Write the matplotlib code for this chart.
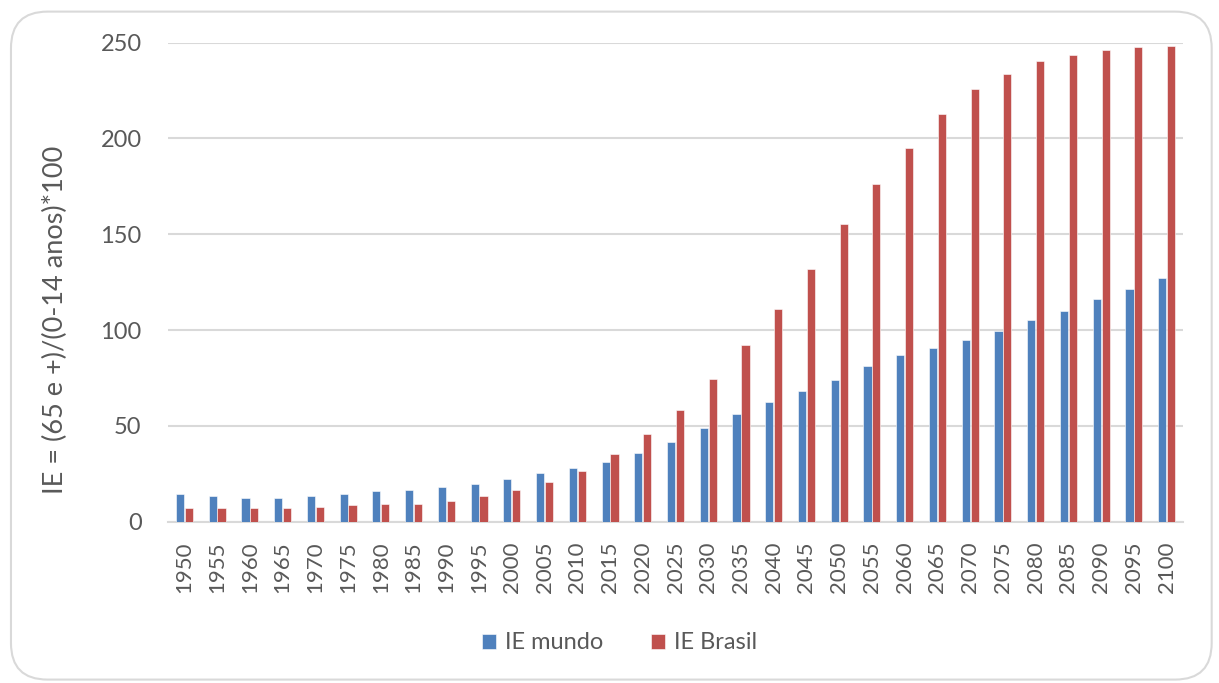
import matplotlib.pyplot as plt
import numpy as np
from matplotlib.patches import FancyBboxPatch

anos = [str(a) for a in range(1950, 2101, 5)]
ie_mundo = [14.3, 13.4, 12.5, 12.5, 13.4, 14.3, 15.9, 16.5, 18.3, 19.8, 22.3, 25.5,
            27.9, 31.2, 36.0, 41.6, 48.9, 56.1, 62.5, 68.1, 73.8, 81.1, 87.0, 90.8,
            94.8, 99.7, 105.4, 110.1, 116.1, 121.6, 127.2]
ie_brasil = [7.0, 7.0, 7.0, 7.0, 7.8, 8.5, 9.4, 9.4, 11.0, 13.4, 16.5, 20.6,
             26.3, 35.2, 45.6, 58.5, 74.6, 92.4, 111.0, 131.9, 155.5, 176.4, 195.2, 212.8,
             225.7, 233.8, 240.3, 243.6, 246.0, 247.6, 248.3]

plt.rcParams['font.family'] = ['Lato', 'DejaVu Sans']

fig = plt.figure(figsize=(12.19, 6.83), dpi=100)
border = FancyBboxPatch((0.009, 0.005), 0.985, 0.978, boxstyle="round,pad=0,rounding_size=0.03",
                        transform=fig.transFigure, facecolor='none', edgecolor='#D9D9D9',
                        linewidth=1.5, mutation_aspect=1219 / 683, zorder=-1)
fig.patches.append(border)

ax = fig.add_axes([0.1378, 0.2362, 0.8327, 0.7013])
ax.patch.set_alpha(0)
x = np.arange(len(anos))
w = 0.25
ax.bar(x - 0.135, ie_mundo, w, color='#4F81BD', edgecolor='white', linewidth=0.4, label='IE mundo', zorder=3)
ax.bar(x + 0.135, ie_brasil, w, color='#C0504D', edgecolor='white', linewidth=0.4, label='IE Brasil', zorder=3)

ax.set_xlim(-0.5, len(anos) - 0.5)
ax.set_ylim(0, 250)
ax.set_yticks(range(0, 251, 50))
ax.yaxis.grid(True, color='#D9D9D9', linewidth=1.5, zorder=0)
for s in ['top', 'right', 'left']:
    ax.spines[s].set_visible(False)
ax.spines['bottom'].set_color('#D9D9D9')
ax.spines['bottom'].set_linewidth(1.5)
ax.set_xticks(x)
ax.set_xticklabels(anos, rotation=90)
ax.tick_params(axis='both', length=0, labelcolor='#595959')
ax.tick_params(axis='y', pad=19, labelsize=17)
ax.tick_params(axis='x', pad=14, labelsize=16)
ax.set_ylabel('IE = (65 e +)/(0-14 anos)*100', fontsize=19.5, color='#595959')
ax.yaxis.set_label_coords(-0.098, 0.421)

ax.legend(loc='center', bbox_to_anchor=(0.445, -0.253), ncol=2, frameon=False,
          fontsize=17, labelcolor='#595959', handlelength=0.6, handleheight=0.6,
          columnspacing=2.0, handletextpad=0.4)

fig.savefig('out.png', dpi=100)
